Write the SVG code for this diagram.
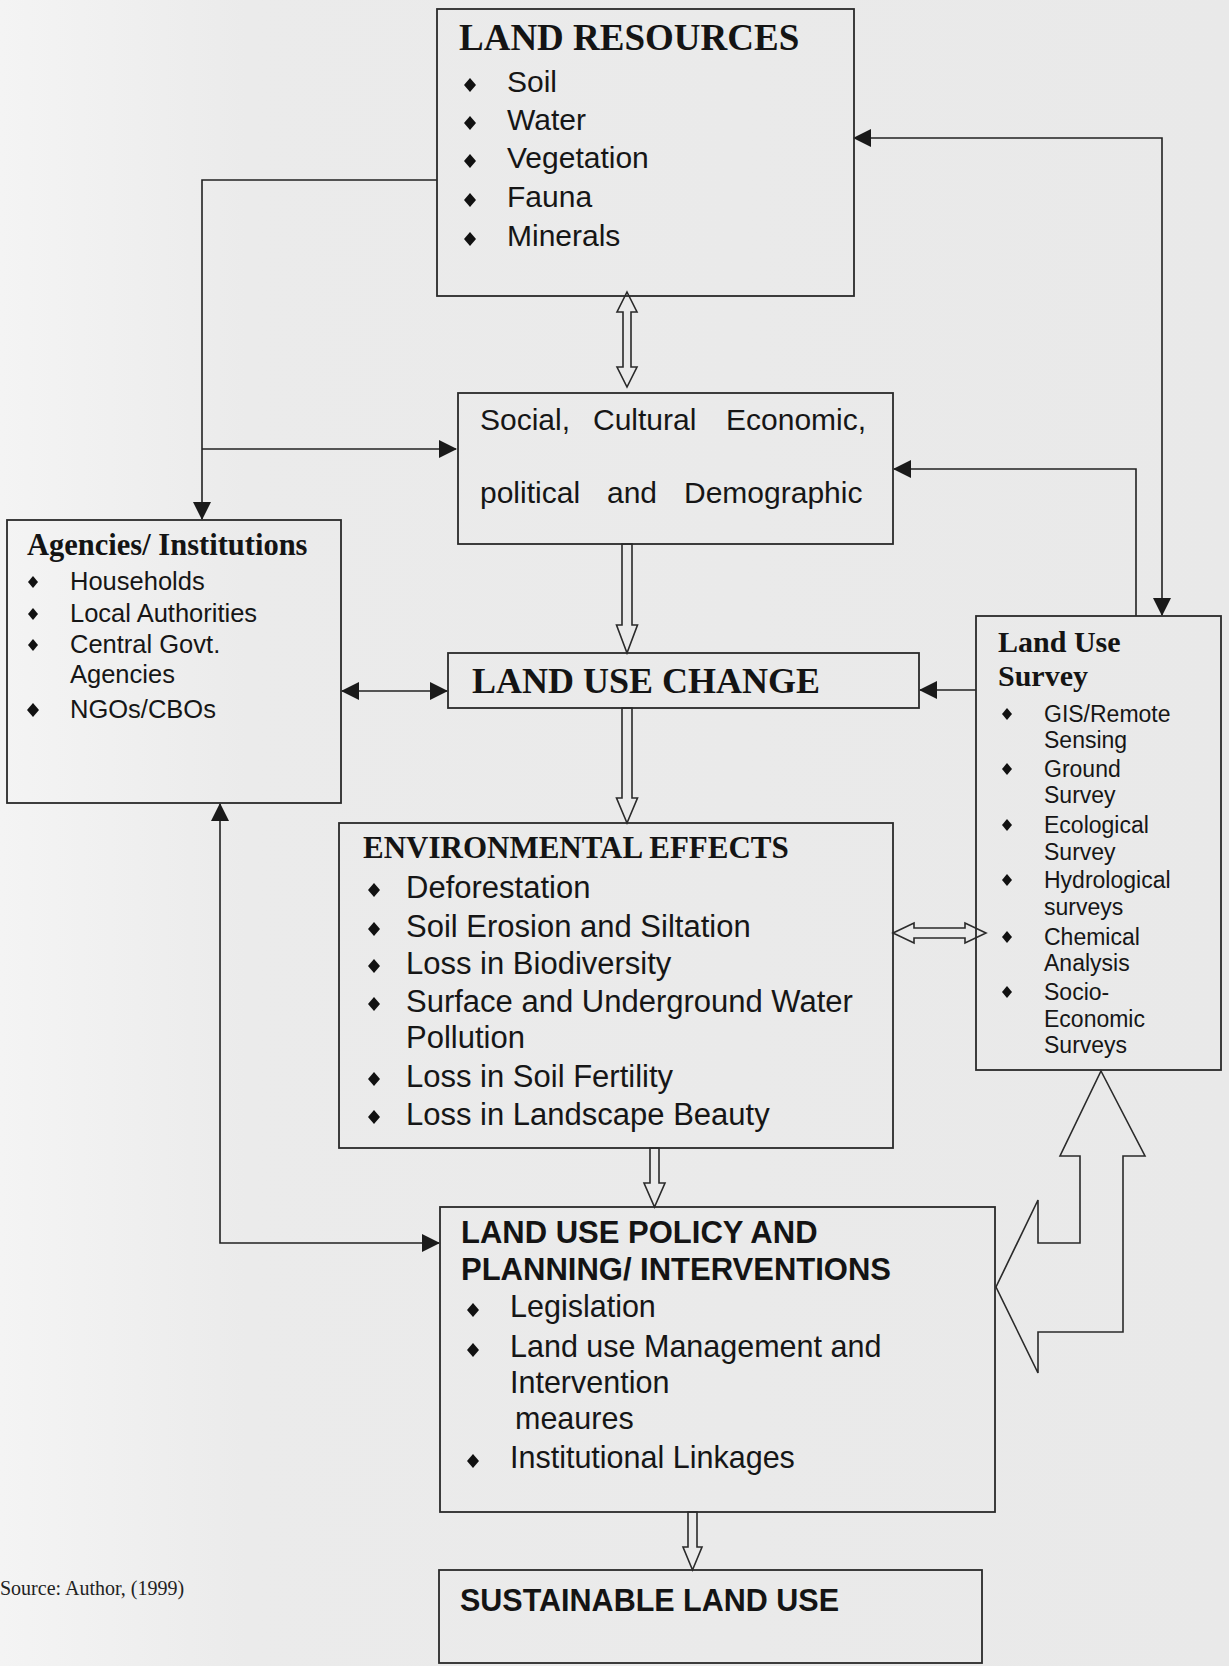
<svg xmlns="http://www.w3.org/2000/svg" width="1229" height="1666" viewBox="0 0 1229 1666">
<defs>
<linearGradient id="bg" x1="0" y1="0" x2="1" y2="0">
<stop offset="0" stop-color="#f4f4f4"/>
<stop offset="0.2" stop-color="#ebebeb"/>
<stop offset="1" stop-color="#e9e9e9"/>
</linearGradient>
<marker id="ah" viewBox="0 0 18 18" refX="17" refY="9" markerWidth="18" markerHeight="18" markerUnits="userSpaceOnUse" orient="auto-start-reverse">
<path d="M0,0 L18,9 L0,18 Z" fill="#1a1a1a"/>
</marker>
<path id="dm" d="M0,-7 L6,0 L0,7 L-6,0 Z"/>
<path id="ds" d="M0,-6 L5,0 L0,6 L-5,0 Z"/>
</defs>
<style>
.box{fill:none;stroke:#2a2a2a;stroke-width:1.8}
.ln{fill:none;stroke:#222;stroke-width:1.6}
.ha{fill:none;stroke:#2a2a2a;stroke-width:1.6;stroke-linejoin:miter}
.ts{font-family:"Liberation Serif","Times New Roman",serif;font-weight:bold;fill:#141414}
.tb{font-family:"Liberation Sans",Arial,sans-serif;font-weight:bold;fill:#141414}
.t{font-family:"Liberation Sans",Arial,sans-serif;fill:#161616}
.src{font-family:"Liberation Serif","Times New Roman",serif;fill:#222;font-size:20px}
.bl{fill:#111}
</style>
<rect x="0" y="0" width="1229" height="1666" fill="url(#bg)"/>

<g id="connectors">
<path class="ln" d="M437,180 H202 V519" marker-end="url(#ah)"/>
<path class="ln" d="M202,449 H456" marker-end="url(#ah)"/>
<path class="ln" d="M220,804 V1243 H439" marker-start="url(#ah)" marker-end="url(#ah)"/>
<path class="ln" d="M342,691 H447" marker-start="url(#ah)" marker-end="url(#ah)"/>
<path class="ln" d="M854,138 H1162 V615" marker-start="url(#ah)" marker-end="url(#ah)"/>
<path class="ln" d="M1136,616 V469 H894" marker-end="url(#ah)"/>
<path class="ln" d="M976,690 H920" marker-end="url(#ah)"/>
<polygon class="ha" points="627,292 637,312 631,312 631,367 637,367 627,387 617,367 623,367 623,312 617,312"/>
<polygon class="ha" points="622,544 632,544 632,625 637.5,625 627,653 616.5,625 622,625"/>
<polygon class="ha" points="622,708 632,708 632,798 637.5,798 627,823 616.5,798 622,798"/>
<polygon class="ha" points="650,1148 659,1148 659,1183 665,1183 654.5,1207 644,1183 650,1183"/>
<polygon class="ha" points="688,1512 697,1512 697,1547 702,1547 692.5,1570 683,1547 688,1547"/>
<polygon class="ha" points="893,933 914,923 914,928 965,928 965,923 986,933 965,943 965,938 914,938 914,943"/>
<polygon class="ha" points="1101,1071 1145,1156 1123,1156 1123,1332 1038,1332 1038,1373 996,1287 1038,1200 1038,1243 1080,1243 1080,1156 1060,1156"/>
</g>

<g id="land-resources">
<rect class="box" x="437" y="9" width="417" height="287"/>
<text class="ts" x="459" y="50" font-size="37">LAND RESOURCES</text>
<g class="bl"><use href="#dm" x="470" y="85"/><use href="#dm" x="470" y="123"/><use href="#dm" x="470" y="161"/><use href="#dm" x="470" y="200"/><use href="#dm" x="470" y="239"/></g>
<g class="t" font-size="30">
<text x="507" y="92">Soil</text>
<text x="507" y="130">Water</text>
<text x="507" y="168">Vegetation</text>
<text x="507" y="207">Fauna</text>
<text x="507" y="246">Minerals</text>
</g>
</g>

<g id="social">
<rect class="box" x="458" y="393" width="435" height="151"/>
<g class="t" font-size="30">
<text x="480" y="430">Social,</text>
<text x="593" y="430">Cultural</text>
<text x="726" y="430">Economic,</text>
<text x="480" y="503">political</text>
<text x="607" y="503">and</text>
<text x="684" y="503">Demographic</text>
</g>
</g>

<g id="agencies">
<rect class="box" x="7" y="520" width="334" height="283"/>
<text class="ts" x="27" y="555" font-size="30.5">Agencies/ Institutions</text>
<g class="bl"><use href="#ds" x="33" y="582"/><use href="#ds" x="33" y="614"/><use href="#ds" x="33" y="645"/><use href="#dm" x="33" y="710"/></g>
<g class="t" font-size="25.5">
<text x="70" y="590">Households</text>
<text x="70" y="622">Local Authorities</text>
<text x="70" y="653">Central Govt.</text>
<text x="70" y="683">Agencies</text>
<text x="70" y="718">NGOs/CBOs</text>
</g>
</g>

<g id="land-use-change">
<rect class="box" x="448" y="653" width="471" height="55"/>
<text class="ts" x="472" y="693" font-size="36">LAND USE CHANGE</text>
</g>

<g id="land-use-survey">
<rect class="box" x="976" y="616" width="245" height="454"/>
<text class="ts" x="998" y="652" font-size="30">Land Use</text>
<text class="ts" x="998" y="686" font-size="30">Survey</text>
<g class="bl"><use href="#ds" x="1007" y="714"/><use href="#ds" x="1007" y="769"/><use href="#ds" x="1007" y="825"/><use href="#ds" x="1007" y="880"/><use href="#ds" x="1007" y="937"/><use href="#ds" x="1007" y="992"/></g>
<g class="t" font-size="23">
<text x="1044" y="722">GIS/Remote</text>
<text x="1044" y="748">Sensing</text>
<text x="1044" y="777">Ground</text>
<text x="1044" y="803">Survey</text>
<text x="1044" y="833">Ecological</text>
<text x="1044" y="860">Survey</text>
<text x="1044" y="888">Hydrological</text>
<text x="1044" y="915">surveys</text>
<text x="1044" y="945">Chemical</text>
<text x="1044" y="971">Analysis</text>
<text x="1044" y="1000">Socio-</text>
<text x="1044" y="1027">Economic</text>
<text x="1044" y="1053">Surveys</text>
</g>
</g>

<g id="environmental-effects">
<rect class="box" x="339" y="823" width="554" height="325"/>
<text class="ts" x="363" y="858" font-size="31">ENVIRONMENTAL EFFECTS</text>
<g class="bl"><use href="#dm" x="374" y="890"/><use href="#dm" x="374" y="929"/><use href="#dm" x="374" y="966"/><use href="#dm" x="374" y="1004"/><use href="#dm" x="374" y="1079"/><use href="#dm" x="374" y="1117"/></g>
<g class="t" font-size="31">
<text x="406" y="898">Deforestation</text>
<text x="406" y="937">Soil Erosion and Siltation</text>
<text x="406" y="974">Loss in Biodiversity</text>
<text x="406" y="1012">Surface and Underground Water</text>
<text x="406" y="1048">Pollution</text>
<text x="406" y="1087">Loss in Soil Fertility</text>
<text x="406" y="1125">Loss in Landscape Beauty</text>
</g>
</g>

<g id="policy">
<rect class="box" x="440" y="1207" width="555" height="305"/>
<text class="tb" x="461" y="1243" font-size="31">LAND USE POLICY AND</text>
<text class="tb" x="461" y="1280" font-size="31">PLANNING/ INTERVENTIONS</text>
<g class="bl"><use href="#dm" x="473" y="1310"/><use href="#dm" x="473" y="1350"/><use href="#dm" x="473" y="1461"/></g>
<g class="t" font-size="30.5">
<text x="510" y="1317">Legislation</text>
<text x="510" y="1357">Land use Management and</text>
<text x="510" y="1393">Intervention</text>
<text x="515" y="1429">meaures</text>
<text x="510" y="1468">Institutional Linkages</text>
</g>
</g>

<g id="sustainable">
<rect class="box" x="439" y="1570" width="543" height="93"/>
<text class="tb" x="460" y="1611" font-size="30.5">SUSTAINABLE LAND USE</text>
</g>

<text class="src" x="0" y="1595">Source: Author, (1999)</text>
</svg>
